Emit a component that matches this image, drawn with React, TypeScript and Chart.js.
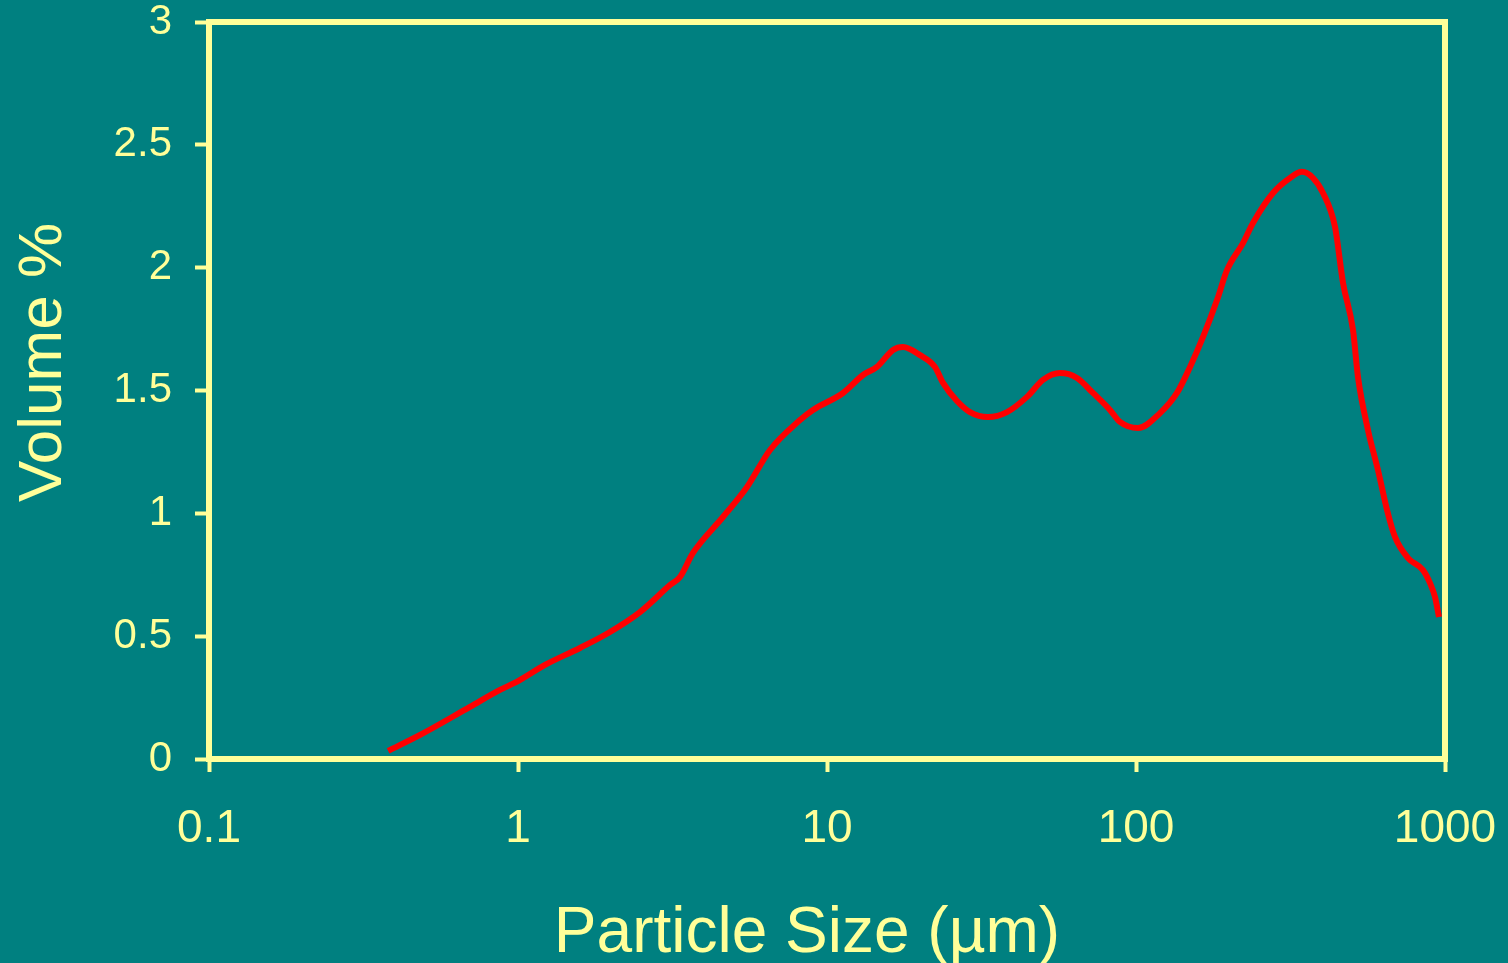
import React, { useEffect, useRef } from "react";
import { Chart, registerables } from "chart.js";

Chart.register(...registerables);

// Particle size (µm) and volume %
const particleSizes = [
  0.38, 0.482, 0.699, 0.874, 1.0, 1.223, 1.587, 1.985, 2.482, 3.104, 3.344, 3.684,
  4.607, 5.51, 6.54, 8.177, 9.01, 11.27, 13.08, 14.51, 16.36, 17.62, 20.0, 22.36,
  23.74, 26.35, 29.02, 33.19, 38.23, 44.39, 50.0, 56.76, 64.44, 72.58, 82.38, 88.78,
  101.5, 119.6, 135.7, 149.6, 164.8, 182.9, 197.0, 221.9, 239.1, 277.6, 315.0, 344.5,
  374.0, 402.9, 440.6, 467.7, 503.9, 522.9, 563.4, 607.0, 649.2, 688.9, 759.2, 848.9,
  894.4, 928.2, 956.3,
];
const volumePercent = [
  0.033, 0.098, 0.212, 0.281, 0.317, 0.383, 0.452, 0.517, 0.598, 0.708, 0.741, 0.839,
  0.985, 1.107, 1.258, 1.38, 1.421, 1.49, 1.563, 1.596, 1.665, 1.677, 1.644, 1.596,
  1.531, 1.457, 1.412, 1.392, 1.412, 1.474, 1.543, 1.571, 1.551, 1.49, 1.421, 1.372,
  1.347, 1.408, 1.49, 1.596, 1.718, 1.868, 1.99, 2.1, 2.182, 2.304, 2.365, 2.39,
  2.365, 2.304, 2.166, 1.938, 1.746, 1.555, 1.339, 1.176, 1.014, 0.904, 0.818, 0.769,
  0.716, 0.659, 0.578,
];
const xTickValues = [0.1, 1, 10, 100, 1000];
const xTickLabels = ["0.1", "1", "10", "100", "1000"];
const yTickValues = [0, 0.5, 1, 1.5, 2, 2.5, 3];
const yTickLabels = ["0", "0.5", "1", "1.5", "2", "2.5", "3"];
const xAxisTitle = "Particle Size (µm)";
const yAxisTitle = "Volume %";

const TEAL = "#008080";
const YELLOW = "#FFFF99";
const FONT = "'Liberation Sans', Arial, sans-serif";

export default function App() {
  const canvasRef = useRef<HTMLCanvasElement | null>(null);

  useEffect(() => {
    document.body.style.margin = "0";
    document.body.style.background = TEAL;
    const canvas = canvasRef.current;
    if (!canvas) return;

    const framePlugin = {
      id: "frameAndTitles",
      beforeDatasetsDraw(chart: any) {
        const { ctx, chartArea } = chart;
        ctx.save();
        ctx.strokeStyle = YELLOW;
        ctx.lineWidth = 6;
        ctx.strokeRect(
          chartArea.left,
          chartArea.top,
          chartArea.right - chartArea.left,
          chartArea.bottom - chartArea.top
        );
        ctx.restore();
      },
      afterDraw(chart: any) {
        const { ctx, chartArea } = chart;
        ctx.save();
        ctx.fillStyle = YELLOW;
        ctx.font = `64px ${FONT}`;
        ctx.textAlign = "center";
        ctx.textBaseline = "alphabetic";
        const cx = (chartArea.left + chartArea.right) / 2 - 20;
        ctx.fillText(xAxisTitle, cx, chartArea.bottom + 193);

        ctx.translate(chartArea.left - 148, (chartArea.top + chartArea.bottom) / 2 - 28);
        ctx.rotate(-Math.PI / 2);
        ctx.font = `62px ${FONT}`;
        ctx.fillText(yAxisTitle, 0, 0);
        ctx.restore();
      },
    };

    const chart = new Chart(canvas, {
      type: "line",
      data: {
        datasets: [
          {
            data: particleSizes.map((x, i) => ({ x, y: volumePercent[i] })),
            borderColor: "#FF0000",
            borderWidth: 6,
            pointRadius: 0,
            fill: false,
            cubicInterpolationMode: "monotone",
          },
        ],
      },
      options: {
        animation: false,
        responsive: false,
        maintainAspectRatio: false,
        layout: { padding: 0 },
        plugins: { legend: { display: false }, tooltip: { enabled: false } },
        scales: {
          x: {
            type: "logarithmic",
            min: 0.1,
            max: 1000,
            border: { display: false },
            grid: {
              drawOnChartArea: false,
              drawTicks: true,
              tickLength: 13,
              tickColor: YELLOW,
              tickWidth: 4,
              color: YELLOW,
            },
            ticks: {
              color: YELLOW,
              font: { family: FONT, size: 46 },
              padding: 30,
              autoSkip: false,
              maxRotation: 0,
              callback: (value: any) => {
                const idx = xTickValues.indexOf(Number(value));
                return idx >= 0 ? xTickLabels[idx] : "";
              },
            },
            afterBuildTicks: (scale: any) => {
              scale.ticks = xTickValues.map((v) => ({ value: v }));
            },
            afterFit: (scale: any) => {
              scale.height = 204;
              scale.paddingLeft = 0;
              scale.paddingRight = 63;
            },
          },
          y: {
            min: 0,
            max: 3,
            border: { display: false },
            grid: {
              drawOnChartArea: false,
              drawTicks: true,
              tickLength: 14,
              tickColor: YELLOW,
              tickWidth: 4,
              color: YELLOW,
            },
            ticks: {
              color: YELLOW,
              font: { family: FONT, size: 42 },
              padding: 23,
              callback: (value: any) => {
                const idx = yTickValues.indexOf(Number(value));
                return idx >= 0 ? yTickLabels[idx] : "";
              },
            },
            afterBuildTicks: (scale: any) => {
              scale.ticks = yTickValues.map((v) => ({ value: v }));
            },
            afterFit: (scale: any) => {
              scale.width = 209;
              scale.paddingTop = 22;
              scale.paddingBottom = 0;
            },
          },
        },
      },
      plugins: [framePlugin],
    });

    return () => chart.destroy();
  }, []);

  return (
    <div style={{ width: 1508, height: 963, background: TEAL, position: "relative" }}>
      <canvas ref={canvasRef} width={1508} height={963} style={{ display: "block" }} />
    </div>
  );
}
